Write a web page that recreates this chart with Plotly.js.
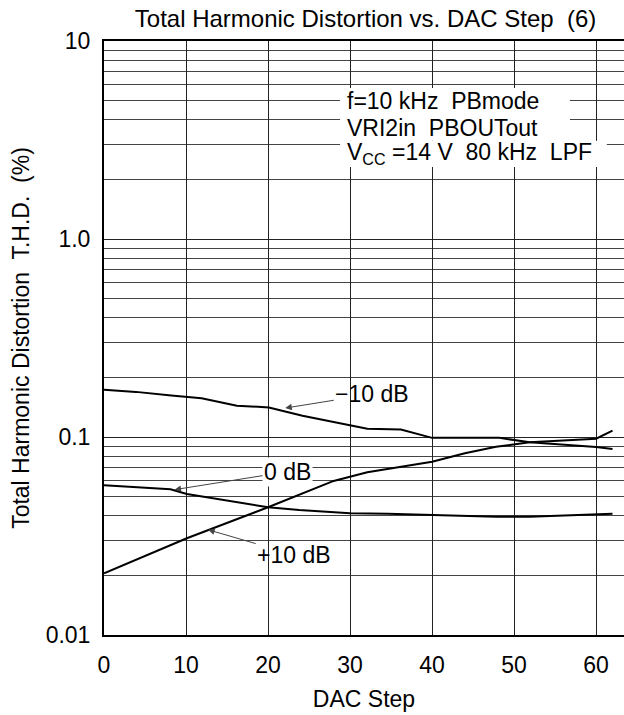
<!DOCTYPE html>
<html>
<head>
<meta charset="utf-8">
<script src="https://cdn.plot.ly/plotly-3.0.1.min.js"></script>
<style>html,body{margin:0;padding:0;background:#fff;}#chart{width:624px;height:715px;}</style>
</head>
<body>
<div id="chart"></div>
<script>
// DAC step / THD (%) readings
var stepMinus10 = [0, 3.9, 8.2, 11.9, 16.2, 20.1, 24.2, 28, 32.1, 36.2, 40, 48.2, 51.9, 60, 62];
var thdMinus10 = [0.173, 0.169, 0.162, 0.157, 0.144, 0.141, 0.128, 0.119, 0.110, 0.109, 0.099, 0.099, 0.094, 0.089, 0.087];

var stepZero = [0, 8.1, 10.1, 20, 23.8, 30, 34.6, 40, 47.8, 51.9, 60, 62];
var thdZero = [0.057, 0.0544, 0.0515, 0.0442, 0.0428, 0.0412, 0.041, 0.0404, 0.0396, 0.0396, 0.0407, 0.041];

var stepPlus10 = [0, 10.1, 20, 28, 32.1, 40, 44, 47.8, 51.9, 60, 62];
var thdPlus10 = [0.0205, 0.0308, 0.0442, 0.060, 0.0663, 0.075, 0.0827, 0.0893, 0.094, 0.098, 0.1076];

var xTicks = [0, 10, 20, 30, 40, 50, 60];
var yTickVals = [0.01, 0.1, 1, 10];
var yTickText = ['0.01', '0.1', '1.0', '10'];
var seriesLabels = ['\u221210 dB', '0 dB', '+10 dB'];
var conditionLines = ['f=10 kHz  PBmode', 'VRI2in  PBOUTout', 'V<sub>CC</sub> =14 V  80 kHz  LPF'];

var FONT = 'Liberation Sans, Arial, sans-serif';
var FS = 23;
var lineStyle = {color: '#000', width: 2};

var traces = [
  {x: stepMinus10, y: thdMinus10, mode: 'lines', line: lineStyle, name: seriesLabels[0], hoverinfo: 'skip'},
  {x: stepZero, y: thdZero, mode: 'lines', line: lineStyle, name: seriesLabels[1], hoverinfo: 'skip'},
  {x: stepPlus10, y: thdPlus10, mode: 'lines', line: lineStyle, name: seriesLabels[2], hoverinfo: 'skip'}
];

var minorVals = [];
for (var d = -2; d < 1; d++) {
  for (var m = 2; m <= 9; m++) minorVals.push(m * Math.pow(10, d));
}

// white backing boxes behind the condition text (paper coords)
var boxes = [
  {x0: 0.454, x1: 0.896, y0: 0.877, y1: 0.921},
  {x0: 0.454, x1: 0.896, y0: 0.832, y1: 0.877},
  {x0: 0.454, x1: 0.967, y0: 0.788, y1: 0.832}
];
var shapes = boxes.map(function (b) {
  return {type: 'rect', xref: 'paper', yref: 'paper', x0: b.x0, x1: b.x1, y0: b.y0, y1: b.y1,
          fillcolor: '#fff', line: {width: 0}, layer: 'above'};
});

var condY = [0.899, 0.854, 0.810];
var annotations = conditionLines.map(function (t, i) {
  return {
    xref: 'paper', yref: 'paper', x: 0.466, y: condY[i], xanchor: 'left', yanchor: 'middle',
    align: 'left', showarrow: false, borderpad: 0,
    text: t, font: {family: FONT, size: FS, color: '#000'}
  };
});

annotations.push(
  {
    x: 22.1, y: Math.log10(0.14), xref: 'x', yref: 'y',
    text: seriesLabels[0], showarrow: true, arrowhead: 2, arrowsize: 1.3, arrowwidth: 1,
    ax: 87, ay: -14, font: {family: FONT, size: FS, color: '#000'}
  },
  {
    x: 8.6, y: Math.log10(0.0542), xref: 'x', yref: 'y',
    text: seriesLabels[1], showarrow: true, arrowhead: 2, arrowsize: 1.3, arrowwidth: 1,
    ax: 113, ay: -18, bgcolor: '#fff', font: {family: FONT, size: FS, color: '#000'}
  },
  {
    x: 12.7, y: Math.log10(0.034), xref: 'x', yref: 'y',
    text: seriesLabels[2], showarrow: true, arrowhead: 2, arrowsize: 1.3, arrowwidth: 1,
    ax: 86, ay: 25, font: {family: FONT, size: FS, color: '#000'}
  }
);

var layout = {
  width: 624, height: 715,
  margin: {l: 104, r: 0, t: 41, b: 80},
  paper_bgcolor: '#fff', plot_bgcolor: '#fff',
  showlegend: false,
  font: {family: FONT, size: FS, color: '#000'},
  title: {
    text: 'Total Harmonic Distortion vs. DAC Step  (6)',
    font: {family: FONT, size: 24, color: '#000'},
    xref: 'paper', x: 0.503, xanchor: 'center',
    yref: 'container', y: 0.974, yanchor: 'middle'
  },
  xaxis: {
    range: [0, 63.4],
    tickvals: xTicks,
    ticktext: xTicks.map(String),
    showgrid: true, gridcolor: '#222', gridwidth: 1,
    zeroline: false,
    showline: true, linecolor: '#000', linewidth: 2, mirror: true,
    ticks: '', ticklabelstandoff: 8,
    tickfont: {family: FONT, size: FS, color: '#000'},
    title: {text: 'DAC Step', font: {family: FONT, size: FS, color: '#000'}, standoff: 14}
  },
  yaxis: {
    type: 'log',
    range: [-2, 1],
    tickvals: yTickVals,
    ticktext: yTickText,
    showgrid: true, gridcolor: '#222', gridwidth: 1,
    minor: {tickvals: minorVals, showgrid: true, gridcolor: '#444', gridwidth: 1, ticks: ''},
    zeroline: false,
    showline: true, linecolor: '#000', linewidth: 2,
    ticks: '', ticklabelstandoff: 7,
    tickfont: {family: FONT, size: FS, color: '#000'},
    title: {text: 'Total Harmonic Distortion  T.H.D.  (%)', font: {family: FONT, size: FS, color: '#000'}, standoff: 10}
  },
  shapes: shapes,
  annotations: annotations
};

Plotly.newPlot('chart', traces, layout, {staticPlot: true, displayModeBar: false});
</script>
</body>
</html>
